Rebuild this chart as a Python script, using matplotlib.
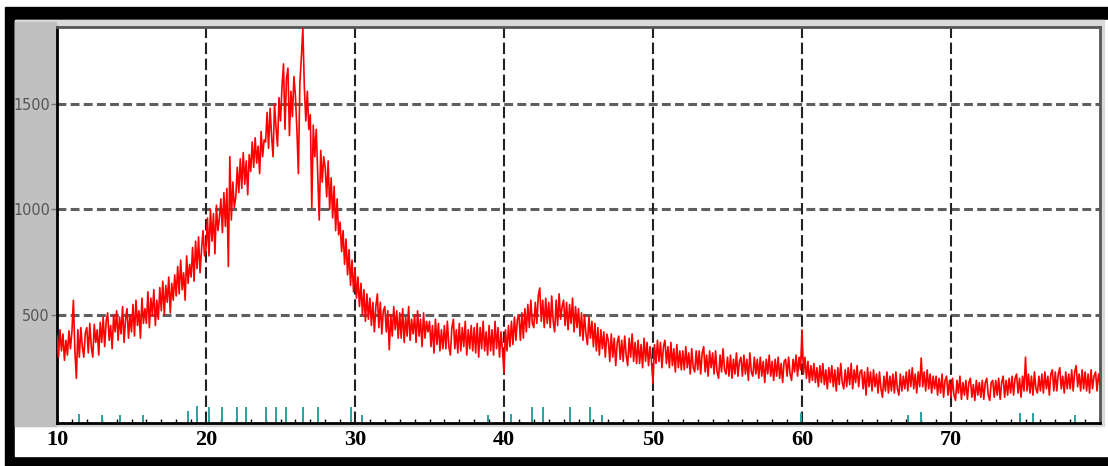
import numpy as np
import matplotlib.pyplot as plt
from matplotlib.patches import Rectangle

# Difratograma: contagens a cada 0,1 grau de 2-theta (10 a 80)
two_theta_start = 10.0
two_theta_end = 80.0
counts = [
    400, 300, 430, 330, 410, 285, 380, 310, 425, 340,   # 10
    420, 570, 330, 200, 430, 300, 440, 350, 300, 415,   # 11
    440, 320, 460, 350, 300, 455, 370, 430, 310, 465,   # 12
    370, 490, 350, 470, 510, 380, 450, 340, 500, 420,   # 13
    520, 380, 490, 410, 540, 370, 480, 530, 390, 500,   # 14
    420, 550, 400, 570, 450, 520, 390, 580, 460, 530,   # 15
    460, 610, 440, 580, 500, 620, 450, 570, 480, 630,   # 16
    520, 660, 500, 640, 560, 680, 510, 650, 570, 690,   # 17
    590, 730, 600, 760, 620, 700, 570, 780, 650, 740,   # 18
    680, 820, 660, 850, 720, 870, 700, 810, 900, 780,   # 19
    810, 960, 780, 1000, 850, 980, 790, 1020, 900, 960,  # 20
    1050, 890, 1080, 920, 1100, 730, 1250, 950, 1130, 1010,  # 21
    1060, 1200, 1080, 1240, 1100, 1270, 1120, 1230, 1070, 1260,  # 22
    1180, 1320, 1200, 1340, 1220, 1300, 1170, 1370, 1250, 1330,  # 23
    1320, 1460, 1290, 1480, 1350, 1250, 1500, 1390, 1300, 1530,  # 24
    1420, 1580, 1690, 1380, 1620, 1670, 1350, 1560, 1440, 1630,  # 25
    1540, 1380, 1170, 1600, 1720, 1860, 1580, 1420, 1560, 1380,  # 26
    1450, 1010, 1400, 1250, 1380, 1170, 950, 1280, 1130, 1250,   # 27
    1200, 1060, 1230, 1000, 1150, 960, 1110, 900, 1050, 880,     # 28
    940, 800, 900, 740, 860, 690, 810, 640, 760, 610,   # 29
    720, 580, 680, 540, 650, 500, 620, 470, 600, 480,   # 30
    580, 450, 560, 420, 540, 600, 440, 560, 410, 520,   # 31
    540, 420, 520, 335, 500, 400, 540, 430, 520, 390,   # 32
    510, 390, 530, 370, 490, 400, 540, 380, 480, 410,   # 33
    500, 370, 520, 400, 480, 350, 510, 390, 470, 420,   # 34
    470, 350, 450, 320, 480, 360, 460, 330, 430, 340,   # 35
    450, 340, 470, 350, 310, 440, 480, 340, 430, 320,   # 36
    460, 330, 440, 350, 470, 310, 430, 340, 450, 330,   # 37
    440, 320, 460, 300, 440, 340, 470, 330, 420, 310,   # 38
    450, 330, 430, 310, 470, 340, 440, 300, 420, 330,   # 39
    225, 430, 330, 450, 350, 470, 360, 490, 380, 480,   # 40
    500, 380, 510, 390, 530, 420, 550, 440, 570, 460,   # 41
    440, 560, 460, 590, 628, 470, 570, 440, 580, 460,   # 42
    560, 440, 590, 470, 420, 570, 450, 600, 480, 540,   # 43
    570, 450, 560, 430, 550, 460, 580, 420, 540, 440,   # 44
    530, 400, 510, 380, 500, 410, 360, 490, 390, 470,   # 45
    350, 460, 330, 440, 310, 430, 340, 420, 300, 410,   # 46
    380, 280, 410, 300, 390, 260, 370, 400, 290, 380,   # 47
    280, 400, 310, 260, 390, 300, 410, 280, 370, 270,   # 48
    380, 270, 360, 250, 390, 280, 370, 260, 350, 280,   # 49
    175, 360, 270, 380, 280, 370, 250, 350, 380, 270,   # 50
    350, 250, 370, 260, 340, 230, 360, 250, 330, 240,   # 51
    330, 240, 350, 250, 320, 220, 340, 250, 230, 330,   # 52
    240, 330, 220, 320, 350, 230, 310, 210, 330, 250,   # 53
    320, 220, 330, 230, 200, 310, 230, 340, 240, 220,   # 54
    300, 210, 310, 200, 290, 220, 320, 210, 280, 300,   # 55
    210, 310, 220, 290, 190, 320, 230, 210, 300, 220,   # 56
    290, 200, 300, 210, 280, 180, 290, 220, 310, 210,   # 57
    280, 190, 290, 210, 300, 200, 270, 180, 280, 290,   # 58
    210, 300, 220, 190, 290, 230, 310, 210, 300, 240,   # 59
    430, 220, 300, 200, 280, 180, 260, 190, 270, 180,   # 60
    250, 160, 260, 180, 270, 170, 240, 150, 250, 180,   # 61
    260, 160, 240, 140, 250, 170, 270, 180, 150, 240,   # 62
    160, 250, 170, 270, 150, 240, 180, 260, 160, 230,   # 63
    240, 150, 230, 120, 250, 160, 230, 140, 240, 160,   # 64
    220, 130, 230, 150, 110, 210, 140, 230, 130, 210,   # 65
    140, 220, 130, 230, 150, 120, 220, 140, 210, 150,   # 66
    230, 140, 240, 160, 250, 150, 220, 130, 230, 160,   # 67
    296, 160, 230, 140, 240, 150, 220, 130, 210, 150,   # 68
    210, 120, 200, 130, 220, 110, 190, 210, 120, 190,   # 69
    110, 200, 120, 95, 190, 130, 210, 100, 180, 120,    # 70
    190, 100, 180, 200, 110, 170, 95, 190, 120, 180,    # 71
    110, 190, 100, 180, 200, 120, 95, 180, 190, 110,    # 72
    190, 120, 200, 100, 180, 210, 110, 190, 120, 200,   # 73
    130, 210, 120, 200, 220, 130, 200, 110, 210, 140,   # 74
    300, 140, 220, 130, 210, 120, 230, 150, 130, 210,   # 75
    140, 220, 130, 230, 150, 210, 120, 220, 240, 140,   # 76
    230, 140, 220, 250, 150, 210, 130, 230, 150, 220,   # 77
    150, 240, 140, 230, 260, 160, 220, 140, 240, 150,   # 78
    230, 140, 220, 130, 240, 150, 210, 230, 140, 220,   # 79
    170,                                                # 80
]

# Linhas de referência (padrão) no rodapé: posição 2-theta e altura
ref_positions = [11.5, 13.0, 14.2, 15.8, 18.8, 19.4, 20.2, 21.1, 22.1, 22.7,
                 24.0, 24.7, 25.4, 26.5, 27.5, 29.7, 30.5, 38.9, 40.5, 41.9,
                 42.6, 44.4, 45.8, 46.6, 59.9, 67.1, 68.0, 74.6, 75.5, 78.3]
ref_heights = [30, 25, 25, 25, 45, 70, 65, 65, 65, 65,
               65, 65, 65, 65, 65, 65, 25, 25, 30, 65,
               65, 65, 65, 25, 35, 25, 40, 35, 35, 25]

x_ticks = [10, 20, 30, 40, 50, 60, 70]
y_ticks = [500, 1000, 1500]

W, H = 1108, 466


def px_rect(fig, x0, y0, x1, y1, color):
    """Retângulo em pixels (origem no canto superior esquerdo)."""
    fig.patches.append(Rectangle((x0 / W, 1 - y1 / H), (x1 - x0) / W, (y1 - y0) / H,
                                 transform=fig.transFigure, color=color, zorder=-5))


fig = plt.figure(figsize=(W / 100, H / 100), dpi=100, facecolor="white")

# moldura preta e painéis de fundo
px_rect(fig, 5, 7, W + 5, H + 5, "black")
px_rect(fig, 15, 20, W + 5, 456, "white")
px_rect(fig, 15, 20, 1104, 426, "#d9d9d9")
px_rect(fig, 15, 22, 56, 426, "#c0c0c0")

ax = fig.add_axes([57 / W, 1 - 423 / H, (1100 - 57) / W, (423 - 27) / H])
ax.set_zorder(1)
ax.set_facecolor("white")

x = np.linspace(two_theta_start, two_theta_end, len(counts))
ax.plot(x, counts, color="#ff0000", lw=1.2, zorder=3)

ax.vlines(ref_positions, -12, ref_heights, color="#2aa0a0", lw=1.4, zorder=2)

for yv in y_ticks:
    ax.axhline(yv, color="#5f5f5f", lw=2.2, ls=(0, (2.9, 1.4)), zorder=1)
for xv in x_ticks[1:]:
    ax.axvline(xv, color="#222222", lw=1.5, ls=(0, (5.5, 2.2)), zorder=1)

ax.set_xlim(two_theta_start, two_theta_end)
ax.set_ylim(-12, 1865)

ax.set_xticks(x_ticks)
ax.set_xticks(np.arange(10, 81, 1), minor=True)
ax.set_xticklabels([str(t) for t in x_ticks], family="Liberation Serif",
                   fontweight="bold", fontsize=16)
ax.tick_params(axis="x", which="major", length=0, pad=5)
ax.tick_params(axis="x", which="minor", direction="in", length=3, width=1, color="black")

ax.set_yticks(y_ticks)
ax.set_yticklabels([str(t) for t in y_ticks], family="DejaVu Sans",
                   fontstretch="condensed", fontsize=11.5, color="#555555")
ax.tick_params(axis="y", length=4, width=1, color="#777777", pad=1)

for side in ["left", "bottom"]:
    ax.spines[side].set_color("black")
    ax.spines[side].set_linewidth(2)
for side in ["top", "right"]:
    ax.spines[side].set_color("#555555")
    ax.spines[side].set_linewidth(2)

fig.savefig("out.png", dpi=100)
